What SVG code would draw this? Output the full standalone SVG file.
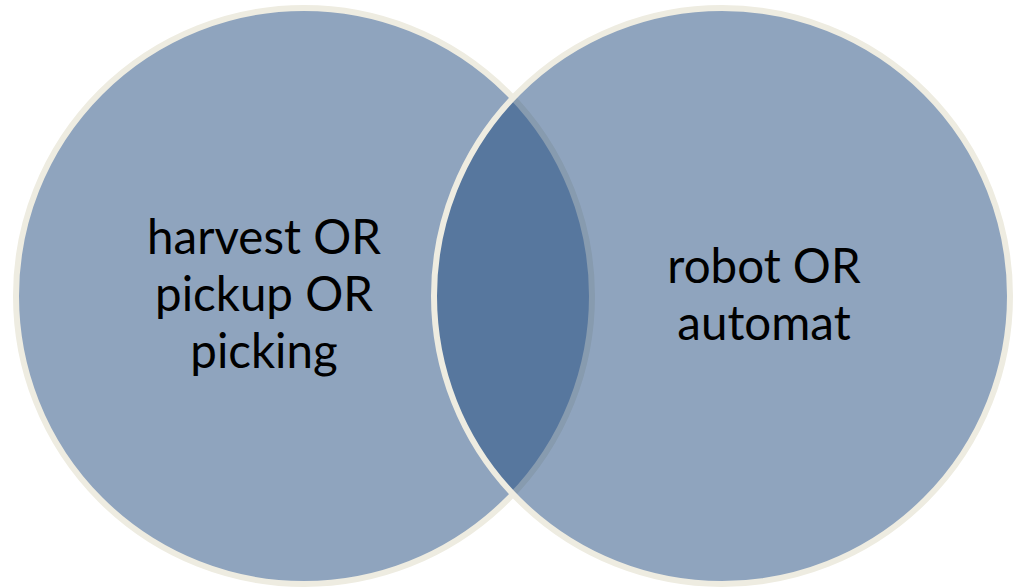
<svg xmlns="http://www.w3.org/2000/svg" width="1019" height="588" viewBox="0 0 1019 588">
  <style>
    .set { fill: #1F497D; fill-opacity: 0.5; stroke: #EEECE1; stroke-width: 6; }
    .label { font-family: Lato, "Open Sans", sans-serif; font-size: 47.5px; fill: #000; text-anchor: middle; }
  </style>
  <rect width="1019" height="588" fill="#FFFFFF"/>
  <g id="set-harvest">
    <circle class="set" cx="304" cy="296" r="288"/>
    <text class="label" x="264" y="254">harvest OR</text>
    <text class="label" x="264" y="311">pickup OR</text>
    <text class="label" x="264" y="368">picking</text>
  </g>
  <g id="set-robot">
    <circle class="set" cx="722" cy="296" r="288"/>
    <text class="label" x="764" y="283">robot OR</text>
    <text class="label" x="764" y="340">automat</text>
  </g>
  <g id="connectors"/>
</svg>
